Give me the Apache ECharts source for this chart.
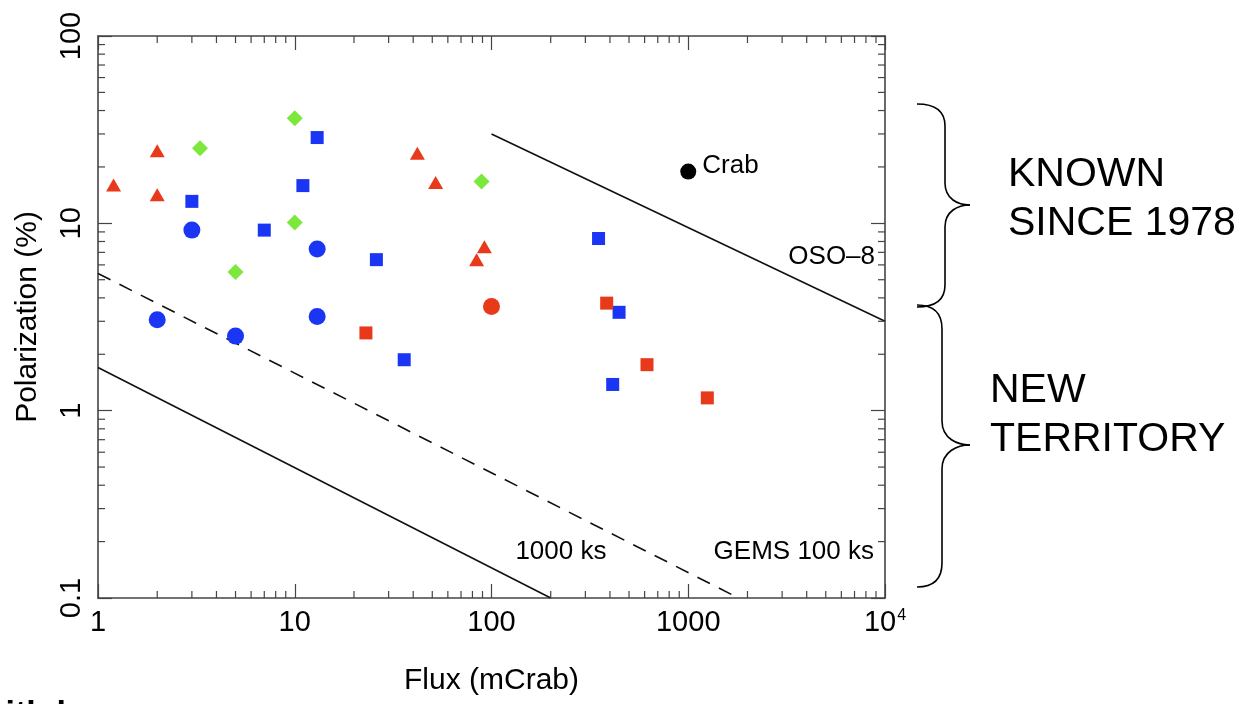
<!DOCTYPE html>
<html><head><meta charset="utf-8">
<script src="https://cdn.jsdelivr.net/npm/echarts@6/dist/echarts.min.js"></script>
<style>html,body{margin:0;padding:0;background:#fff}#c{width:1249px;height:704px}</style>
</head><body><div id="c"></div>
<script>
// ---- data (Flux mCrab, Polarization %) ----
const redTriangles = [[1.2,16],[2,24.4],[2,14.2],[42,23.7],[52,16.5],[92,7.5],[84,6.4]];
const greenDiamonds = [[3.3,25.2],[10,36.4],[10,10.1],[5,5.5],[89,16.7]];
const blueSquares = [[13,28.7],[11,15.9],[3,13.1],[7,9.2],[26,6.4],[36,1.87],[350,8.3],[445,3.35],[413,1.38]];
const blueCircles = [[3,9.2],[13,7.3],[2,3.06],[5,2.5],[13,3.18]];
const redSquares = [[23,2.6],[385,3.75],[617,1.76],[1250,1.17]];
const redCircles = [[100,3.6]];
const crab = [[1000,18.9]];
const oso8Line = [[100,30],[10000,3]];
const line1000ks = [[1,1.7],[200,0.1]];
const gems100ksLine = [[1,5.4],[1800,0.1]];
const annotations = [['OSO\u20138',8900,6.6],['1000 ks',384,0.177],['GEMS 100 ks',8790,0.177]];
const xTickLabels = ['1','10','100','1000','10^4'];
const yTickLabels = ['0.1','1','10','100'];
const xMinorTicks = [2,3,4,5,6,7,8,9,20,30,40,50,60,70,80,90,200,300,400,500,600,700,800,900,2000,3000,4000,5000,6000,7000,8000,9000];
const yMinorTicks = [0.2,0.3,0.4,0.5,0.6,0.7,0.8,0.9,2,3,4,5,6,7,8,9,20,30,40,50,60,70,80,90];

const FONT = 'Liberation Sans, Arial, Helvetica, sans-serif';
const AX = '#444';
const BLUE = '#1a36f4', RED = '#e8391a', GREEN = '#7ce83c';

const chart = echarts.init(document.getElementById('c'));

function xMinorRender(params, api){
  const cs = params.coordSys;
  const px = api.coord([api.value(0), 1])[0];
  const b = cs.y + cs.height, t = cs.y;
  const st = {stroke: AX, lineWidth: 1.2};
  return {type:'group', children:[
    {type:'line', shape:{x1:px,y1:b,x2:px,y2:b-7}, style:st},
    {type:'line', shape:{x1:px,y1:t,x2:px,y2:t+7}, style:st}
  ]};
}
function yMinorRender(params, api){
  const cs = params.coordSys;
  const py = api.coord([1, api.value(1)])[1];
  const l = cs.x, r = cs.x + cs.width;
  const st = {stroke: AX, lineWidth: 1.2};
  return {type:'group', children:[
    {type:'line', shape:{x1:l,y1:py,x2:l+7,y2:py}, style:st},
    {type:'line', shape:{x1:r,y1:py,x2:r-7,y2:py}, style:st}
  ]};
}

function brace(xEnd, xSpine, xTip, yTop, yTip, yBot, c){
  const st = {stroke:'#000', lineWidth:1.6, fill:null};
  return [
    {type:'bezierCurve', shape:{x1:xEnd,y1:yTop,cpx1:xSpine-8,cpy1:yTop,cpx2:xSpine,cpy2:yTop+8,x2:xSpine,y2:yTop+c}, style:st},
    {type:'line', shape:{x1:xSpine,y1:yTop+c,x2:xSpine,y2:yTip-c}, style:st},
    {type:'bezierCurve', shape:{x1:xSpine,y1:yTip-c,cpx1:xSpine,cpy1:yTip-6,cpx2:xTip-12,cpy2:yTip,x2:xTip,y2:yTip}, style:st},
    {type:'bezierCurve', shape:{x1:xTip,y1:yTip,cpx1:xTip-12,cpy1:yTip,cpx2:xSpine,cpy2:yTip+6,x2:xSpine,y2:yTip+c}, style:st},
    {type:'line', shape:{x1:xSpine,y1:yTip+c,x2:xSpine,y2:yBot-c}, style:st},
    {type:'bezierCurve', shape:{x1:xSpine,y1:yBot-c,cpx1:xSpine,cpy1:yBot-8,cpx2:xSpine-8,cpy2:yBot,x2:xEnd,y2:yBot}, style:st}
  ];
}

const sideText = (txt, x, y) => ({type:'text', x:x, y:y, style:{text:txt, font:'41px ' + FONT, fill:'#000', align:'left', verticalAlign:'middle'}});

const tickStyle = {show:true, inside:true, length:14, lineStyle:{color:AX, width:1.2}};
const lineAxis = {show:true, lineStyle:{color:AX, width:1.6}};
const mk = (c) => ({color:c, opacity:1});

const option = {
  animation:false,
  backgroundColor:'#fff',
  grid:{left:98, top:36, width:787, height:562, containLabel:false, outerBoundsMode:'none'},
  xAxis:[
    {type:'log', logBase:10, min:1, max:10000, position:'bottom',
     axisLine:lineAxis, axisTick:tickStyle, splitLine:{show:false}, minorTick:{show:false},
     axisLabel:{show:true, margin:10, color:'#000', fontFamily:FONT, fontSize:29,
       formatter:(v)=>{const i=Math.round(Math.log10(v)); return i===4 ? '{b|10}{s|4}' : xTickLabels[i];},
       rich:{b:{fontFamily:FONT, fontSize:29, color:'#000', lineHeight:30}, s:{fontFamily:FONT, fontSize:16, color:'#000', verticalAlign:'top', lineHeight:30, padding:[0,0,0,1]}}},
     name:'Flux (mCrab)', nameLocation:'middle', nameGap:68,
     nameTextStyle:{fontFamily:FONT, fontSize:30, color:'#000'}},
    {type:'log', logBase:10, min:1, max:10000, position:'top',
     axisLine:lineAxis, axisTick:tickStyle, splitLine:{show:false}, axisLabel:{show:false}}
  ],
  yAxis:[
    {type:'log', logBase:10, min:0.1, max:100, position:'left',
     axisLine:lineAxis, axisTick:tickStyle, splitLine:{show:false}, minorTick:{show:false},
     axisLabel:{show:true, rotate:90, margin:12, color:'#000', fontFamily:FONT, fontSize:29,
       formatter:(v)=>yTickLabels[Math.round(Math.log10(v))+1]},
     name:'Polarization (%)', nameLocation:'middle', nameGap:55, nameRotate:90,
     nameTextStyle:{fontFamily:FONT, fontSize:30, color:'#000'}},
    {type:'log', logBase:10, min:0.1, max:100, position:'right',
     axisLine:lineAxis, axisTick:tickStyle, splitLine:{show:false}, axisLabel:{show:false}}
  ],
  series:[
    {type:'custom', name:'xMinor', renderItem:xMinorRender, data:xMinorTicks.map(v=>[v,1]), encode:{x:0,y:1}, clip:false, silent:true, z:5},
    {type:'custom', name:'yMinor', renderItem:yMinorRender, data:yMinorTicks.map(v=>[1,v]), encode:{x:0,y:1}, clip:false, silent:true, z:5},
    {type:'line', name:'OSO-8', data:oso8Line, symbol:'none', lineStyle:{color:'#111', width:1.6}, z:3},
    {type:'line', name:'1000 ks', data:line1000ks, symbol:'none', lineStyle:{color:'#111', width:1.6}, z:3},
    {type:'line', name:'GEMS 100 ks', data:gems100ksLine, symbol:'none', lineStyle:{color:'#111', width:1.6, type:[14,10]}, z:3},
    {type:'scatter', data:redTriangles, symbol:'triangle', symbolSize:[15,13], itemStyle:mk(RED), z:4},
    {type:'scatter', data:greenDiamonds, symbol:'diamond', symbolSize:[16,16], itemStyle:mk(GREEN), z:4},
    {type:'scatter', data:blueSquares, symbol:'rect', symbolSize:13, itemStyle:mk(BLUE), z:4},
    {type:'scatter', data:blueCircles, symbol:'circle', symbolSize:17, itemStyle:mk(BLUE), z:4},
    {type:'scatter', data:redSquares, symbol:'rect', symbolSize:13, itemStyle:mk(RED), z:4},
    {type:'scatter', data:redCircles, symbol:'circle', symbolSize:17, itemStyle:mk(RED), z:4},
    {type:'scatter', data:crab, symbol:'circle', symbolSize:16, itemStyle:mk('#000'), z:4,
     label:{show:true, position:'right', distance:6, offset:[0,-6], formatter:'Crab', fontFamily:FONT, fontSize:26, color:'#000'}},
    {type:'scatter', data:annotations.map(a=>[a[1],a[2],a[0]]), symbolSize:0, z:4, silent:true, itemStyle:{opacity:1},
     label:{show:true, position:[0,0], align:'right', verticalAlign:'middle', formatter:(p)=>p.data[2], fontFamily:FONT, fontSize:26, color:'#000', opacity:1}}
  ],
  graphic:[
    ...brace(917, 945, 970, 104, 205, 307, 22),
    ...brace(917, 942, 970, 305, 445, 587, 24),
    sideText('KNOWN', 1008, 175),
    sideText('SINCE 1978', 1008, 224),
    sideText('NEW', 990, 391),
    sideText('TERRITORY', 990, 440),
    {type:'text', x:-21, y:715, style:{text:'with l', font:'bold 34px ' + FONT, fill:'#000', align:'left', verticalAlign:'middle'}}
  ]
};
chart.setOption(option);
</script></body></html>
